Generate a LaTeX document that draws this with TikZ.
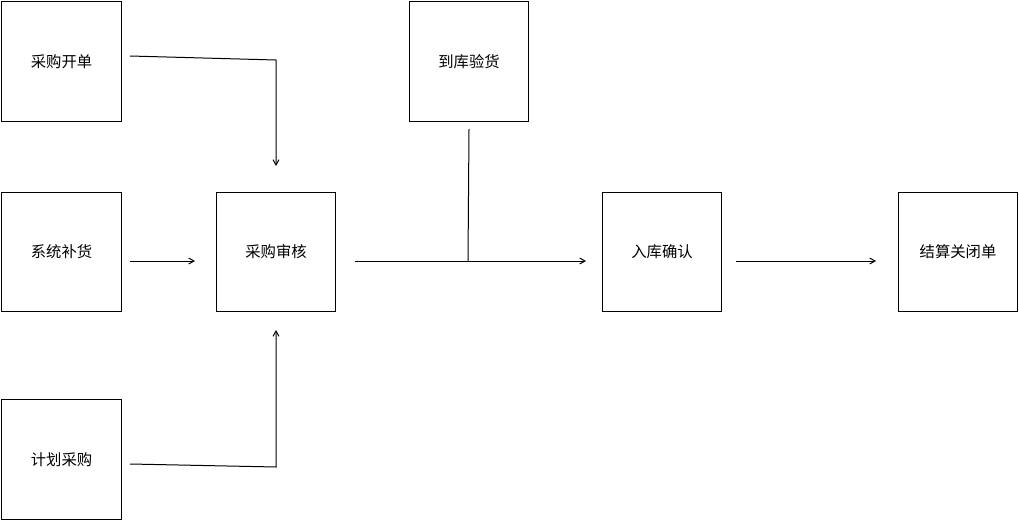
\documentclass[tikz,border=0pt]{standalone}
\usepackage{fontspec}
\newfontfamily\cjk{Noto Sans CJK SC}
\usetikzlibrary{arrows.meta}
\begin{document}
\begin{tikzpicture}[x=0.75pt,y=-0.75pt,
  box/.style={draw,line width=0.75pt,minimum width=89.5pt,minimum height=89.5pt,inner sep=0pt,font=\cjk\fontsize{11.5pt}{13pt}\selectfont},
  conn/.style={line width=0.75pt},
  arr/.style={conn,-{Straight Barb[length=4pt,width=4.5pt]}}]
\useasboundingbox (0,0) rectangle (1019,520);
\node[box] (a) at (61.5,61.5) {采购开单};
\node[box] (b) at (61.5,252) {系统补货};
\node[box] (c) at (61.5,459.5) {计划采购};
\node[box] (d) at (276,252) {采购审核};
\node[box] (e) at (469,61.5) {到库验货};
\node[box] (f) at (662,252) {入库确认};
\node[box] (g) at (958,252) {结算关闭单};
\coordinate (a1) at (130,56);
\coordinate (a2) at (276,60);
\coordinate (a3) at (276,166);
\coordinate (b1) at (130,261);
\coordinate (b2) at (195,261);
\coordinate (c1) at (130,464);
\coordinate (c2) at (276,467);
\coordinate (c3) at (276,330);
\coordinate (d1) at (355,261);
\coordinate (d2) at (586,261);
\coordinate (e1) at (469,129);
\coordinate (e2) at (468,261);
\coordinate (f1) at (736,261);
\coordinate (f2) at (876,261);
\draw[arr] (a1) -- (a2) -- (a3);
\draw[arr] (b1) -- (b2);
\draw[arr] (c1) -- (c2) -- (c3);
\draw[arr] (d1) -- (d2);
\draw[conn] (e1) -- (e2);
\draw[arr] (f1) -- (f2);
\end{tikzpicture}
\end{document}
